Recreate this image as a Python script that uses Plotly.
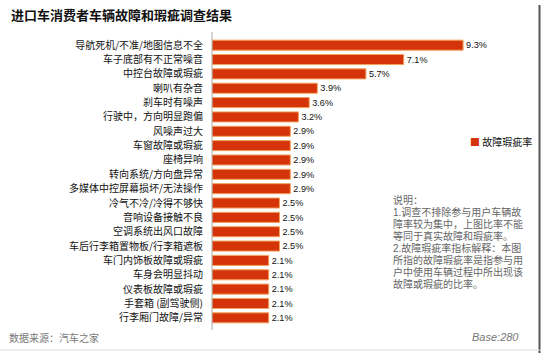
import plotly.graph_objects as go

categories = [
    "导航死机/不准/地图信息不全", "车子底部有不正常噪音", "中控台故障或瑕疵", "喇叭有杂音",
    "刹车时有噪声", "行驶中，方向明显跑偏", "风噪声过大", "车窗故障或瑕疵", "座椅异响",
    "转向系统/方向盘异常", "多媒体中控屏幕损坏/无法操作", "冷气不冷/冷得不够快",
    "音响设备接触不良", "空调系统出风口故障", "车后行李箱置物板/行李箱遮板",
    "车门内饰板故障或瑕疵", "车身会明显抖动", "仪表板故障或瑕疵", "手套箱 (副驾驶侧)",
    "行李厢门故障/异常",
]
values = [9.3, 7.1, 5.7, 3.9, 3.6, 3.2, 2.9, 2.9, 2.9, 2.9, 2.9, 2.5, 2.5, 2.5, 2.5,
          2.1, 2.1, 2.1, 2.1, 2.1]
series_name = "故障瑕疵率"
title = "进口车消费者车辆故障和瑕疵调查结果"
note_lines = [
    "说明：",
    "1.调查不排除参与用户车辆故",
    "障率较为集中，上图比率不能",
    "等同于真实故障和瑕疵率。",
    "2.故障瑕疵率指标解释：本图",
    "所指的故障瑕疵率是指参与用",
    "户中使用车辆过程中所出现该",
    "故障或瑕疵的比率。",
]
source = "数据来源：汽车之家"
base = "Base:280"

W, H = 541, 353
L, R, T, B = 212, 59, 38, 28
PW, PH = W - L - R, H - T - B
def px(x):
    return (x - L) / PW
def py(y):
    return (H - B - y) / PH

FONT = "Noto Sans CJK SC"
NOTE_FONT = "Liberation Sans, Noto Sans CJK SC"
fig = go.Figure()
fig.add_trace(go.Bar(
    y=categories, x=values, orientation="h", name=series_name,
    marker=dict(color="#D5340B", line=dict(color="#F2A25C", width=1)),
    text=[f"{v}%" for v in values], textposition="outside", cliponaxis=False,
    textfont=dict(family="Liberation Sans", size=10, color="#111"),
    showlegend=False,
))

ann = []
ann.append(dict(text=f"<b>{title}</b>", x=px(9), y=py(15), xref="paper", yref="paper",
                xanchor="left", yanchor="middle", showarrow=False,
                font=dict(family=FONT, size=13, color="#111")))
ann.append(dict(text=f"<span style='color:#D5340B'>■</span> {series_name}",
                x=px(468), y=py(141), xref="paper", yref="paper",
                xanchor="left", yanchor="middle", showarrow=False,
                font=dict(family=FONT, size=10, color="#111")))
for i, line in enumerate(note_lines):
    ann.append(dict(text=line, x=px(391), y=py(200 + 12 * i), xref="paper", yref="paper",
                    xanchor="left", yanchor="middle", align="left", showarrow=False,
                    font=dict(family=NOTE_FONT, size=10, color="#666")))
ann.append(dict(text=source, x=px(7), y=py(337), xref="paper", yref="paper",
                xanchor="left", yanchor="middle", showarrow=False,
                font=dict(family=FONT, size=10, color="#777")))
ann.append(dict(text=f"<i>{base}</i>", x=px(521), y=py(337), xref="paper", yref="paper",
                xanchor="right", yanchor="middle", showarrow=False,
                font=dict(family="Liberation Sans", size=11, color="#777")))

shapes = [
    dict(type="line", xref="paper", yref="paper", x0=px(212), x1=px(212), y0=py(32), y1=py(330),
         line=dict(color="#AAAAAA", width=1)),
    dict(type="line", xref="paper", yref="paper", x0=px(539.5), x1=px(539.5), y0=py(5), y1=py(353),
         line=dict(color="#555555", width=2)),
    dict(type="line", xref="paper", yref="paper", x0=px(0), x1=px(541), y0=py(350), y1=py(350),
         line=dict(color="#DDDDDD", width=1)),
]

fig.update_layout(
    width=W, height=H, margin=dict(l=L, r=R, t=T, b=B),
    paper_bgcolor="white", plot_bgcolor="white",
    bargap=0.3,
    xaxis=dict(range=[0, 10], visible=False, fixedrange=True),
    yaxis=dict(autorange="reversed", showline=False, showgrid=False, ticks="",
               ticklabelstandoff=8,
               tickfont=dict(family=FONT, size=10, color="#111")),
    annotations=ann, shapes=shapes,
)
fig.write_html("out.html")
